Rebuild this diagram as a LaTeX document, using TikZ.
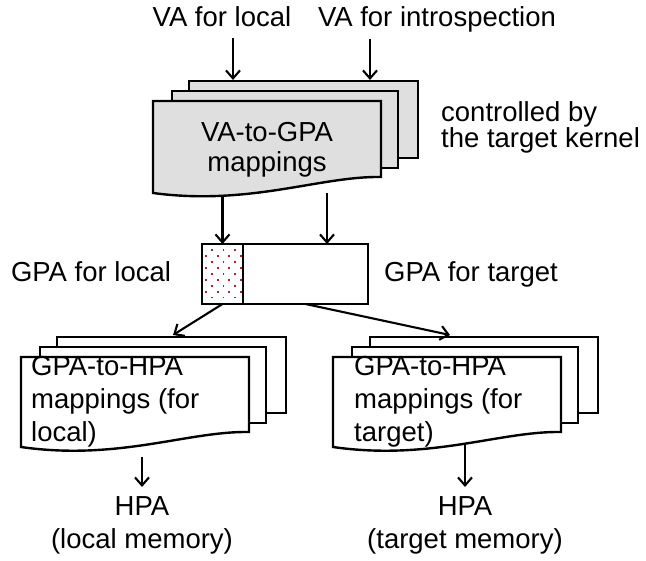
\documentclass[tikz,border=0pt]{standalone}
\usepackage{fontspec}
\setmainfont{Liberation Sans}
\usetikzlibrary{arrows.meta,positioning}

\definecolor{dotred}{RGB}{175,35,35}
\tikzset{
	sheet/.style={draw, line width=2.4pt, fill=white},
	graysheet/.style={sheet, fill=gray!25},
	lbl/.style={inner sep=0pt, font=\fontsize{27.5}{33}\selectfont},
	gpapart/.style={draw, line width=2.4pt, inner sep=0pt, outer sep=0pt, minimum height=60pt},
	arr/.style={line width=2.1pt, -{Straight Barb[length=8pt,width=14pt]}}
}

\begin{document}
\begin{tikzpicture}[x=1pt,y=-1pt]
	\useasboundingbox (0,0) rectangle (646,561);
	% VA-to-GPA stack
	\filldraw[graysheet] (189,81) rectangle (418,158);
	\filldraw[graysheet] (172,91) rectangle (398,168);
	\filldraw[graysheet] (153,101) -- (381,101) -- (381,177)
		.. controls (320,176) and (250,206) .. (153,193) -- cycle;
	% GPA-to-HPA stacks
	\filldraw[sheet] (57,337) rectangle (286,413);
	\filldraw[sheet] (40,347) rectangle (266,423);
	\filldraw[sheet] (21,357) -- (249,357) -- (249,432)
		.. controls (188,431) and (118,461) .. (21,447) -- cycle;
	\filldraw[sheet] (370,337) rectangle (598,413);
	\filldraw[sheet] (352,347) rectangle (578,423);
	\filldraw[sheet] (333,357) -- (561,357) -- (561,432)
		.. controls (500,431) and (430,461) .. (333,447) -- cycle;

	% labels
	\node[lbl, anchor=base] (vaLocal) at (222,27) {VA for local};
	\node[lbl, anchor=base] (vaIntro) at (437,27) {VA for introspection};
	\node[lbl, anchor=north, align=center, font=\fontsize{27.5}{30}\selectfont]
		(vaGpaText) at (267,122.5) {VA-to-GPA\\mappings};
	\node[lbl, anchor=north west, align=left, font=\fontsize{27.5}{26.5}\selectfont]
		(ctrlText) at (441,101) {controlled by\\the target kernel};
	\node[lbl, anchor=base] (gpaLocText) at (91,282) {GPA for local};
	\node[lbl, anchor=base] (gpaTgtText) at (471,282) {GPA for target};
	\node[lbl, anchor=north west, align=left] (ghLocText) at (31,356.5)
		{GPA-to-HPA\\mappings (for\\local)};
	\node[lbl, anchor=north west, align=left] (ghTgtText) at (354,356.5)
		{GPA-to-HPA\\mappings (for\\target)};
	\node[lbl, inner sep=9.5pt, anchor=north, align=center] (hpaLoc) at (142,487)
		{HPA\\(local memory)};
	\node[lbl, inner sep=9.5pt, anchor=north, align=center] (hpaTgt) at (465,487)
		{HPA\\(target memory)};

	% GPA range
	\node[gpapart, anchor=north west, minimum width=41pt] (gpaLoc) at (202,244) {};
	\node[gpapart, minimum width=125pt, right=0pt of gpaLoc] (gpaTgt) {};
	\foreach \j in {0,...,8}
		\foreach \i in {0,...,3} {
			\pgfmathsetmacro{\dx}{205+5.85*mod(\j+1,2)+11.7*\i}
			\pgfmathsetmacro{\dy}{249.5+5.9*\j}
			\ifdim\dx pt<241pt
				\fill[dotred] (\dx,\dy) rectangle +(1.8,1.8);
			\fi
		}

	% connectors
	\coordinate (vaL) at (233,80);
	\coordinate (vaR) at (370,80);
	\coordinate (gSrcL) at (222.5,195);
	\coordinate (gSrcR) at (327,193);
	\coordinate (lTop) at (173,335);
	\coordinate (rTop) at (450,335);
	\coordinate (lSrc) at (142,457);
	\coordinate (rSrc) at (465,443);
	\draw[arr, shorten <=11pt] (vaLocal.base -| vaL) -- (vaL);
	\draw[arr, shorten <=12pt] (vaIntro.base -| vaR) -- (vaR);
	\draw[arr] (gSrcL) -- (gpaLoc.north);
	\draw[arr] (gSrcR) -- (gpaTgt.north -| gSrcR);
	\draw[arr] (gpaLoc.south) -- (lTop);
	\draw[arr] (gpaTgt.south) -- (rTop);
	\draw[arr] (lSrc) -- (hpaLoc.north);
	\draw[arr] (rSrc) -- (hpaTgt.north);
\end{tikzpicture}
\end{document}
